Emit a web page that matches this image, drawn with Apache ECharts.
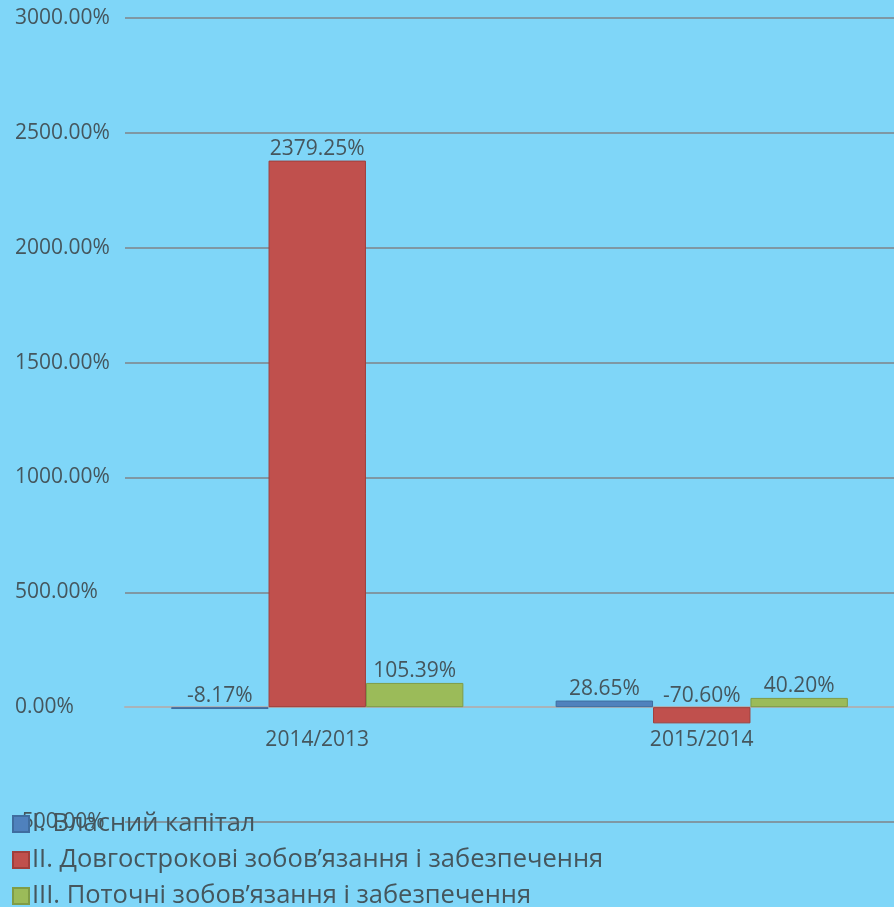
<!DOCTYPE html>
<html>
<head>
<meta charset="utf-8">
<script src="https://cdn.jsdelivr.net/npm/echarts@6/dist/echarts.min.js"></script>
<style>
html, body { margin: 0; padding: 0; background: #7fd6f8; }
#chart { width: 894px; height: 907px; }
</style>
</head>
<body>
<div id="chart"></div>
<script>
// періоди
var categories = ['2014/2013', '2015/2014'];
var seriesNames = [
    'І. Власний капітал',
    'ІІ. Довгострокові зобов’язання і забезпечення',
    'ІІІ. Поточні зобов’язання і забезпечення'
];
var equity = [-8.17, 28.65];
var longTerm = [2379.25, -70.60];
var current = [105.39, 40.20];

var colors = ['#4f81bd', '#c0504d', '#9bbb59'];
var borders = ['#3f6d9f', '#a03f3c', '#7f9c46'];
var textColor = '#45565d';

function pct(v) {
    return v.toFixed(2) + '%';
}

function makeSeries(name, data, i) {
    return {
        name: name,
        type: 'bar',
        data: data,
        barGap: '0%',
        barCategoryGap: '24%',
        itemStyle: { color: colors[i], borderColor: borders[i], borderWidth: 1 },
        label: {
            show: true,
            position: 'top',
            distance: 1,
            color: textColor,
            fontSize: 21,
            fontFamily: 'Open Sans',
            formatter: function (p) { return pct(p.value); }
        }
    };
}

var chart = echarts.init(document.getElementById('chart'));
chart.setOption({
    backgroundColor: '#7fd6f8',
    animation: false,
    color: colors,
    grid: { left: 125, right: 0, top: 18, bottom: 85 },
    legend: {
        orient: 'vertical',
        left: 12,
        top: 811,
        height: 200,
        padding: 0,
        itemWidth: 16,
        itemHeight: 16,
        itemGap: 10,
        icon: 'rect',
        textStyle: { color: textColor, fontSize: 25.5, fontFamily: 'Open Sans', padding: [0, 0, 0, -2] },
        data: seriesNames
    },
    xAxis: {
        type: 'category',
        data: categories,
        offset: -115,
        axisLine: { onZero: false, lineStyle: { color: '#a9b3b9', width: 2 } },
        axisTick: { show: false },
        axisLabel: { color: textColor, fontSize: 21, fontFamily: 'Open Sans', margin: 23 }
    },
    yAxis: {
        type: 'value',
        min: -500,
        max: 3000,
        interval: 500,
        axisLine: { show: false },
        axisTick: { show: false },
        splitLine: { lineStyle: { color: '#7f98a4', width: 2 } },
        axisLabel: {
            color: textColor,
            fontSize: 21,
            fontFamily: 'Open Sans',
            align: 'left',
            margin: 110,
            formatter: function (v) { return pct(v); }
        }
    },
    series: [
        makeSeries(seriesNames[0], equity, 0),
        makeSeries(seriesNames[1], longTerm, 1),
        makeSeries(seriesNames[2], current, 2)
    ]
});
</script>
</body>
</html>
